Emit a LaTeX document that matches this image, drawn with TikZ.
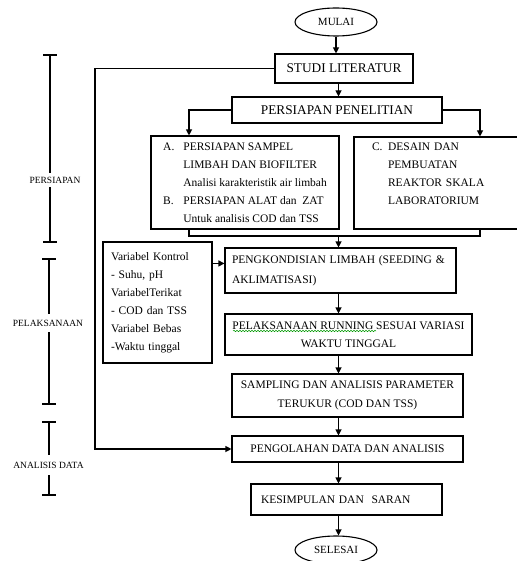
\documentclass[tikz,border=0pt]{standalone}
\usepackage{fontspec}
\setmainfont{Liberation Serif}
\usetikzlibrary{arrows.meta,shapes.geometric,decorations.pathmorphing}
\begin{document}
\begin{tikzpicture}[x=1pt,y=-1pt,line width=1.1pt,
  arr/.style={-{Triangle[length=6pt,width=6pt]}},
  box/.style={draw, rectangle, inner sep=0pt, align=center, font=\fontsize{11.5}{18}\selectfont},
  bigbox/.style={box, font=\fontsize{13.3}{16}\selectfont},
  term/.style={draw, ellipse, inner sep=0pt, minimum width=82pt, minimum height=28pt, font=\fontsize{11}{13}\selectfont},
  side/.style={fill=white, inner xsep=1pt, font=\fontsize{9.5}{11}\selectfont},
  brk/.style={line width=1.1pt},
]
\useasboundingbox (0,0) rectangle (516,561);

% side brackets
\draw[brk] (50,55) -- (50,242);
\draw[brk] (43,55) -- (57,55);
\draw[brk] (43,242) -- (57,242);
\node[side, inner ysep=4pt] (lpers) at (55,180) {PERSIAPAN};

\draw[brk] (49,259) -- (49,404);
\draw[brk] (42,259) -- (56,259);
\draw[brk] (42,404) -- (56,404);
\node[side, inner ysep=6pt] (lpel) at (48,323) {PELAKSANAAN};

\draw[brk] (49,422) -- (49,495);
\draw[brk] (42,422) -- (56,422);
\draw[brk] (42,495) -- (56,495);
\node[side, inner ysep=7pt] (lana) at (48.5,465) {ANALISIS DATA};

% nodes
\node[term] (mulai) at (336,22) {MULAI};
\node[bigbox, minimum width=138pt, minimum height=29pt] (studi) at (344,68.5) {STUDI LITERATUR};
\node[bigbox, minimum width=210pt, minimum height=26pt] (pers) at (337,110) {PERSIAPAN PENELITIAN};
\node[box, minimum width=188pt, minimum height=93pt] (boxA) at (245,182.5)
 {\begin{tabular}{@{}l@{\hspace{9pt}}l@{}}
  A. & PERSIAPAN SAMPEL\\
     & LIMBAH DAN BIOFILTER\\
     & Analisi karakteristik air limbah\\
  B. & PERSIAPAN ALAT dan~~ZAT\\
     & Untuk analisis COD dan TSS
  \end{tabular}};
\node[box, minimum width=188pt, minimum height=92pt, text width=152pt, inner xsep=18pt, align=left] (boxC) at (448,183)
 {\begin{tabular}{@{}l@{\hspace{5.5pt}}l@{}}
  C. & DESAIN DAN\\
     & PEMBUATAN\\
     & REAKTOR SKALA\\
     & LABORATORIUM\\
     & \mbox{}
  \end{tabular}};
\node[box, minimum width=109pt, minimum height=121pt, text width=93pt, inner xsep=8pt, align=left] (var) at (157.5,302.5)
 {Variabel Kontrol\\- Suhu, pH\\VariabelTerikat\\- COD dan TSS\\Variabel Bebas\\-Waktu tinggal};
\node[box, minimum width=231pt, minimum height=45pt, text width=217pt, inner xsep=7pt, align=left, font=\fontsize{11.5}{20}\selectfont] (peng) at (340.5,270.5)
 {PENGKONDISIAN LIMBAH (SEEDING \&\\AKLIMATISASI)};
\node[box, minimum width=247pt, minimum height=41pt] (pelak) at (348.5,334.5)
 {PELAKSANAAN RUNNING SESUAI VARIASI\\WAKTU TINGGAL};
\node[box, minimum width=231pt, minimum height=43pt, font=\fontsize{11.5}{19}\selectfont] (samp) at (347.5,395.5)
 {SAMPLING DAN ANALISIS PARAMETER\\TERUKUR (COD DAN TSS)};
\node[box, minimum width=231pt, minimum height=26pt] (olah) at (347.5,449) {PENGOLAHAN DATA DAN ANALISIS};
\node[box, minimum width=191pt, minimum height=31pt, text width=171pt, inner xsep=10pt, align=left] (kesim) at (346.5,499.5) {KESIMPULAN DAN~~SARAN};
\node[term] (selesai) at (336,550) {SELESAI};

% spell-check squiggle
\coordinate (sq1) at (233,331);
\coordinate (sq2) at (376,331);
\draw[green!60!black, line width=0.5pt, decorate, decoration={snake, amplitude=0.7pt, segment length=3pt}] (sq1) -- (sq2);

% connectors
\coordinate (ax) at (338.5,0);
\coordinate (lx) at (95,0);
\coordinate (ax2) at (189,0);
\coordinate (ax3) at (480,0);
\coordinate (jn) at (338.5,236);
\coordinate (vr) at ([yshift=-22pt]var.north east);

\draw[arr] (mulai.south) -- (mulai.south |- studi.north);
\draw[arr] (ax |- studi.south) -- (ax |- pers.north);
\draw[arr] (studi.west) -| (lx |- olah.west) -- (olah.west);
\draw[arr] (pers.west) -| (ax2 |- boxA.north);
\draw[arr] (pers.east) -| (ax3 |- boxC.north);
\draw (ax2 |- boxA.south) |- (jn) -| (ax3 |- boxC.south);
\draw[arr] (jn) -- (ax |- peng.north);
\draw[arr] (vr) -- (vr -| peng.west);
\draw[arr] (ax |- peng.south) -- (ax |- pelak.north);
\draw[arr] (ax |- pelak.south) -- (ax |- samp.north);
\draw[arr] (ax |- samp.south) -- (ax |- olah.north);
\draw[arr] (ax |- olah.south) -- (ax |- kesim.north);
\draw[arr] (ax |- kesim.south) -- (ax |- selesai.north);
\end{tikzpicture}
\end{document}
